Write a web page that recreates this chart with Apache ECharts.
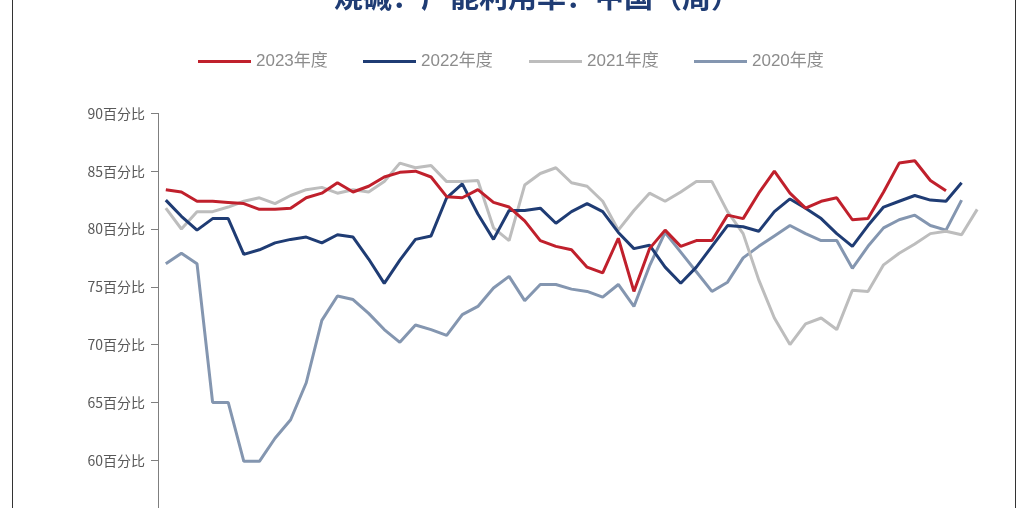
<!DOCTYPE html>
<html>
<head>
<meta charset="utf-8">
<script src="https://cdn.jsdelivr.net/npm/echarts@6/dist/echarts.min.js"></script>
<style>
html,body{margin:0;padding:0;background:#fff;}
#c{width:1021px;height:508px;}
</style>
</head>
<body>
<div id="c"></div>
<script>
const titleText = '烧碱：产能利用率：中国（周）';
const weeks = ['1','2','3','4','5','6','7','8','9','10','11','12','13','14','15','16','17','18','19','20','21','22','23','24','25','26','27','28','29','30','31','32','33','34','35','36','37','38','39','40','41','42','43','44','45','46','47','48','49','50','51','52','53'];
const seriesNames = ['2023年度','2022年度','2021年度','2020年度'];
const y2023 = [83.4,83.2,82.4,82.4,82.3,82.2,81.7,81.7,81.8,82.7,83.1,84.0,83.2,83.7,84.5,84.9,85.0,84.5,82.8,82.7,83.4,82.3,81.9,80.7,79.0,78.5,78.2,76.7,76.2,79.2,74.6,78.3,79.9,78.5,79.0,79.0,81.2,80.9,83.1,85.0,83.1,81.8,82.4,82.7,80.8,80.9,83.2,85.7,85.9,84.2,83.3];
const y2022 = [82.5,81.1,79.9,80.9,80.9,77.8,78.2,78.8,79.1,79.3,78.8,79.5,79.3,77.4,75.3,77.3,79.1,79.4,82.7,83.9,81.3,79.1,81.6,81.6,81.8,80.5,81.5,82.2,81.5,79.7,78.3,78.6,76.7,75.3,76.7,78.5,80.3,80.2,79.8,81.5,82.6,81.8,80.9,79.6,78.5,80.3,81.9,82.4,82.9,82.5,82.4,84.0];
const y2021 = [81.8,80.0,81.5,81.5,81.9,82.4,82.7,82.2,82.9,83.4,83.6,83.1,83.4,83.2,84.1,85.7,85.3,85.5,84.1,84.1,84.2,80.1,79.0,83.8,84.8,85.3,84.0,83.7,82.4,79.9,81.6,83.1,82.4,83.2,84.1,84.1,81.5,79.6,75.6,72.3,70.0,71.8,72.3,71.3,74.7,74.6,76.9,77.9,78.7,79.6,79.8,79.5,81.7];
const y2020 = [77.0,77.9,77.0,65.0,65.0,59.9,59.9,61.9,63.5,66.7,72.1,74.2,73.9,72.7,71.3,70.2,71.7,71.3,70.8,72.6,73.3,74.9,75.9,73.8,75.2,75.2,74.8,74.6,74.1,75.2,73.3,76.8,79.7,78.0,76.3,74.6,75.4,77.5,78.5,79.4,80.3,79.6,79.0,79.0,76.6,78.5,80.1,80.8,81.2,80.3,79.9,82.5];
const yUnit = '百分比';
const colors = ['#C0202C','#1F3C74','#BDBDBD','#8496B0'];
const legendLeft = [193, 358, 524, 689];

const chart = echarts.init(document.getElementById('c'), null, {renderer:'canvas'});
const data = [y2023,y2022,y2021,y2020];
chart.setOption({
  animation:false,
  backgroundColor:'#ffffff',
  title:{
    text:titleText, left:329, top:-23,
    textStyle:{color:'#1F3C74', fontSize:29, fontWeight:'bold', fontFamily:'Noto Sans CJK SC'}
  },
  legend: seriesNames.map((n,k)=>({
    top:48, left:legendLeft[k], icon:'rect', itemWidth:53, itemHeight:3, itemGap:0,
    data:[n],
    textStyle:{color:'#8c8c8c', fontSize:17, fontFamily:'Liberation Sans, Noto Sans CJK SC'}
  })),
  graphic:[
    {type:'line', shape:{x1:12.5,y1:0,x2:12.5,y2:508}, style:{stroke:'#333',lineWidth:1}},
    {type:'line', shape:{x1:1015.5,y1:0,x2:1015.5,y2:508}, style:{stroke:'#333',lineWidth:1}}
  ],
  grid:{left:158, top:113.4, width:827, height:462.4, containLabel:false, outerBoundsMode:'none'},
  xAxis:{
    type:'category', data:weeks, boundaryGap:true,
    axisLine:{show:false}, axisTick:{show:false}, axisLabel:{show:false}
  },
  yAxis:{
    type:'value', min:50, max:90, interval:5,
    axisLine:{show:true, lineStyle:{color:'#7f7f7f', width:1}},
    axisTick:{show:true, inside:false, length:7, lineStyle:{color:'#7f7f7f'}},
    splitLine:{show:false},
    axisLabel:{margin:13, color:'#595959', fontSize:14, fontFamily:'Liberation Sans Narrow, Noto Sans CJK SC',
      formatter:function(v){return v + yUnit;}}
  },
  series: seriesNames.map((n,k)=>({
    name:n, type:'line', data:data[k], symbol:'none', smooth:false,
    lineStyle:{color:colors[k], width:3}, itemStyle:{color:colors[k]}, z:10-k
  }))
});
</script>
</body>
</html>
